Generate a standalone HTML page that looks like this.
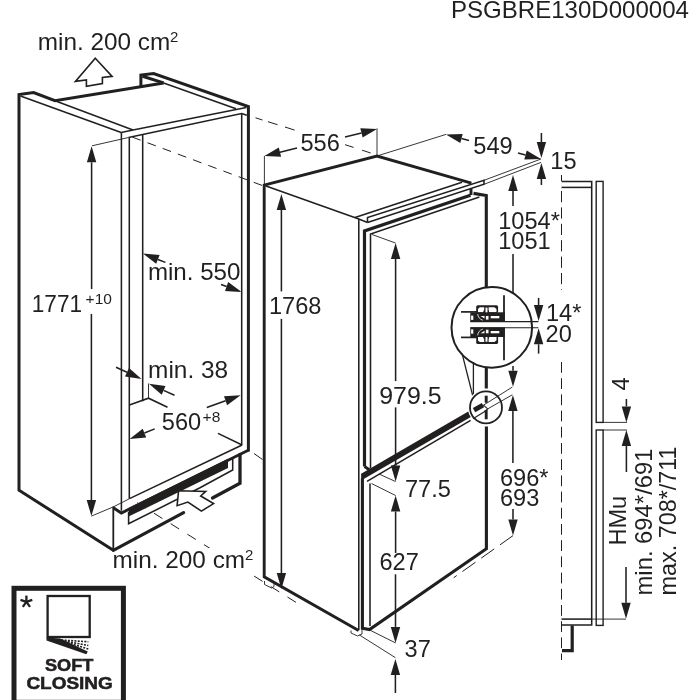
<!DOCTYPE html>
<html><head><meta charset="utf-8"><title>Installation dimensions</title>
<style>
html,body{margin:0;padding:0;background:#fff;}
svg{display:block;will-change:transform;}
text{font-family:"Liberation Sans",sans-serif;fill:#221f1f;}
</style></head>
<body>
<svg width="700" height="700" viewBox="0 0 700 700">
<rect width="700" height="700" fill="#fff"/>
<polyline points="20.5,96.0 121.2,132.5" fill="none" stroke="#221f1f" stroke-width="1.55" />
<polyline points="55.0,100.7 133.0,130.0" fill="none" stroke="#221f1f" stroke-width="1.55" />
<polyline points="121.2,132.5 133.0,130.0" fill="none" stroke="#221f1f" stroke-width="1.55" />
<polyline points="133.0,130.0 246.3,107.6" fill="none" stroke="#221f1f" stroke-width="1.55" />
<polyline points="128.5,137.5 241.6,113.6 246.8,115.3" fill="none" stroke="#221f1f" stroke-width="1.55" />
<polyline points="121.4,132.5 121.4,510.7" fill="none" stroke="#221f1f" stroke-width="1.55" />
<polyline points="129.3,137.5 129.3,498.7" fill="none" stroke="#221f1f" stroke-width="1.55" />
<polyline points="142.7,134.6 142.7,401.2" fill="none" stroke="#221f1f" stroke-width="1.55" />
<polyline points="241.7,113.6 241.7,445.0" fill="none" stroke="#221f1f" stroke-width="1.55" />
<polyline points="163.6,82.9 236.0,108.7" fill="none" stroke="#221f1f" stroke-width="1.55" />
<polyline points="129.4,405.0 148.5,398.2 167.5,407.2" fill="none" stroke="#221f1f" stroke-width="1.55" />
<polyline points="148.5,383.5 148.5,398.2" fill="none" stroke="#221f1f" stroke-width="0.9" />
<polyline points="218.0,433.4 242.1,445.0" fill="none" stroke="#221f1f" stroke-width="1.55" />
<polyline points="242.1,445.0 129.5,498.6" fill="none" stroke="#221f1f" stroke-width="1.55" />
<polyline points="92.0,145.8 128.5,137.5" fill="none" stroke="#221f1f" stroke-width="0.9" />
<polyline points="91.4,516.1 113.3,506.9 129.3,498.8" fill="none" stroke="#221f1f" stroke-width="0.9" />
<polyline points="128.6,512.0 128.6,523.8 200.0,487.8 232.7,470.0 232.7,458.0" fill="none" stroke="#221f1f" stroke-width="1.55" />
<polygon points="128.6,508.0 228.0,458.8 228.0,468.0 128.6,516.6" fill="#221f1f" stroke="none" stroke-width="0" />
<polyline points="248.8,450.0 121.3,513.0 113.3,507.7" fill="none" stroke="#221f1f" stroke-width="2.9" />
<polyline points="113.3,506.5 113.3,550.0" fill="none" stroke="#221f1f" stroke-width="1.8" />
<polyline points="113.3,550.3 19.0,490.2 19.0,94.6 33.6,92.6 55.0,100.7 163.6,82.9" fill="none" stroke="#221f1f" stroke-width="3.0" stroke-linejoin="miter"/>
<polyline points="140.9,87.0 140.9,75.0 153.6,73.6 248.4,106.5 248.4,451.4" fill="none" stroke="#221f1f" stroke-width="3.0" />
<polyline points="142.5,76.3 163.6,82.9" fill="none" stroke="#221f1f" stroke-width="3.0" />
<polyline points="113.3,550.3 183.6,512.6" fill="none" stroke="#221f1f" stroke-width="3.2" stroke-linecap="round"/>
<polyline points="240.0,454.5 240.0,483.2 212.5,498.0" fill="none" stroke="#221f1f" stroke-width="3.3" stroke-linecap="round" stroke-linejoin="miter"/>
<polyline points="132.3,137.1 262.0,185.4" fill="none" stroke="#221f1f" stroke-width="1.0" stroke-dasharray="8.9 7.3"/>
<polyline points="255.5,117.8 262.5,120.0" fill="none" stroke="#221f1f" stroke-width="1.0" />
<polyline points="267.9,121.7 277.5,124.7" fill="none" stroke="#221f1f" stroke-width="1.0" />
<polyline points="285.0,127.0 294.6,130.1" fill="none" stroke="#221f1f" stroke-width="1.0" />
<polyline points="345.0,144.7 353.6,147.4" fill="none" stroke="#221f1f" stroke-width="1.0" />
<polyline points="362.1,150.2 370.7,153.0" fill="none" stroke="#221f1f" stroke-width="1.0" />
<polyline points="132.9,500.0 297.0,603.0" fill="none" stroke="#221f1f" stroke-width="1.0" stroke-dasharray="10 9.7" stroke-dashoffset="14.5"/>
<rect x="209" y="548" width="42" height="24" fill="#fff"/>
<polyline points="254.0,453.5 262.5,459.5" fill="none" stroke="#221f1f" stroke-width="1.0" />
<polygon points="91.6,146.3 86.9,162.3 96.3,162.3" fill="#221f1f" stroke="none" stroke-width="0" />
<polyline points="91.6,162.3 91.6,289.0" fill="none" stroke="#221f1f" stroke-width="1.55" />
<polygon points="91.4,516.1 96.1,500.1 86.7,500.1" fill="#221f1f" stroke="none" stroke-width="0" />
<polyline points="91.4,500.1 91.4,314.0" fill="none" stroke="#221f1f" stroke-width="1.55" />
<polygon points="143.0,253.6 156.2,263.8 159.6,255.1" fill="#221f1f" stroke="none" stroke-width="0" />
<polyline points="157.9,259.5 165.4,262.4" fill="none" stroke="#221f1f" stroke-width="1.55" />
<polygon points="241.6,292.0 228.2,282.1 225.0,290.9" fill="#221f1f" stroke="none" stroke-width="0" />
<polyline points="226.6,286.5 221.0,284.4" fill="none" stroke="#221f1f" stroke-width="1.55" />
<polygon points="141.5,379.0 129.0,368.0 125.0,376.5" fill="#221f1f" stroke="none" stroke-width="0" />
<polyline points="127.0,372.3 116.0,367.2" fill="none" stroke="#221f1f" stroke-width="1.55" />
<polygon points="149.0,383.8 161.7,394.7 165.5,386.1" fill="#221f1f" stroke="none" stroke-width="0" />
<polyline points="163.6,390.4 174.5,395.3" fill="none" stroke="#221f1f" stroke-width="1.55" />
<polygon points="129.6,439.0 146.2,437.4 142.7,428.7" fill="#221f1f" stroke="none" stroke-width="0" />
<polyline points="144.4,433.0 154.7,428.9" fill="none" stroke="#221f1f" stroke-width="1.55" />
<polygon points="240.6,395.3 224.0,396.3 227.1,405.2" fill="#221f1f" stroke="none" stroke-width="0" />
<polyline points="225.6,400.7 206.8,407.5" fill="none" stroke="#221f1f" stroke-width="1.55" />
<polygon points="95.3,58.3 112.1,76.4 102.4,77.4 102.4,83.6 86.4,86.4 86.4,80.0 75.4,81.4" fill="#fff" stroke="#221f1f" stroke-width="1.6" />
<polygon points="178.6,490.7 205.7,491.4 200.7,496.0 213.6,503.6 201.4,511.1 187.9,502.1 177.1,505.7" fill="#fff" stroke="#221f1f" stroke-width="1.6" />
<polyline points="266.0,186.0 358.8,219.0 367.5,222.5" fill="none" stroke="#221f1f" stroke-width="1.55" />
<polyline points="358.8,219.0 358.8,630.3" fill="none" stroke="#221f1f" stroke-width="1.55" />
<polyline points="355.0,217.6 462.0,182.2" fill="none" stroke="#221f1f" stroke-width="1.55" />
<polyline points="367.5,222.5 367.5,217.5 484.0,180.3 484.0,184.3 367.5,222.5" fill="none" stroke="#221f1f" stroke-width="1.55" />
<polyline points="484.0,180.3 541.0,159.0" fill="none" stroke="#221f1f" stroke-width="0.9" />
<polyline points="484.0,184.3 541.0,162.4" fill="none" stroke="#221f1f" stroke-width="0.9" />
<polyline points="370.5,468.0 370.5,234.0 479.4,197.0" fill="none" stroke="#221f1f" stroke-width="1.55" />
<polyline points="364.5,466.5 364.5,231.0 470.5,195.3" fill="none" stroke="#221f1f" stroke-width="3.1999999999999997" />
<polyline points="471.0,188.5 471.0,195.0" fill="none" stroke="#221f1f" stroke-width="2.9" />
<polyline points="473.5,193.4 486.3,195.5 486.3,388.5" fill="none" stroke="#221f1f" stroke-width="3.1" />
<polyline points="364.5,466.5 371.5,471.3" fill="none" stroke="#221f1f" stroke-width="2.9" />
<polyline points="367.0,481.3 470.6,420.3" fill="none" stroke="#221f1f" stroke-width="1.55" />
<polyline points="370.0,483.5 370.0,626.0" fill="none" stroke="#221f1f" stroke-width="1.55" />
<polygon points="361.1,480.6 361.1,473.7 476.0,407.0 476.0,413.9" fill="#221f1f" stroke="none" stroke-width="0" />
<polyline points="362.4,478.5 362.4,628.3 369.5,629.6 486.4,548.7 486.4,426.6" fill="none" stroke="#221f1f" stroke-width="3.1" />
<polyline points="264.5,581.0 264.5,584.5 271.5,588.0 274.0,586.5 274.0,583.0" fill="none" stroke="#221f1f" stroke-width="0.9" />
<polyline points="351.0,630.5 351.0,633.0 357.5,636.0 362.0,634.0 362.0,629.0" fill="none" stroke="#221f1f" stroke-width="0.9" />
<polyline points="358.6,630.5 264.2,576.8 264.2,185.0 377.0,156.0 471.4,183.1" fill="none" stroke="#221f1f" stroke-width="2.9" />
<polyline points="513.0,535.6 453.7,577.7" fill="none" stroke="#221f1f" stroke-width="1.0" stroke-dasharray="16 7"/>
<polyline points="264.4,156.0 264.4,185.0" fill="none" stroke="#221f1f" stroke-width="0.9" />
<polyline points="377.0,128.4 377.0,156.0" fill="none" stroke="#221f1f" stroke-width="0.9" />
<polygon points="264.4,156.0 281.1,156.8 278.8,147.6" fill="#221f1f" stroke="none" stroke-width="0" />
<polyline points="279.9,152.2 297.0,148.0" fill="none" stroke="#221f1f" stroke-width="1.55" />
<polygon points="377.0,129.0 360.3,128.3 362.6,137.4" fill="#221f1f" stroke="none" stroke-width="0" />
<polyline points="361.5,132.9 345.0,137.0" fill="none" stroke="#221f1f" stroke-width="1.55" />
<polyline points="377.0,156.0 446.0,134.4" fill="none" stroke="#221f1f" stroke-width="0.9" />
<polygon points="446.0,134.4 460.3,143.0 462.7,133.9" fill="#221f1f" stroke="none" stroke-width="0" />
<polyline points="461.5,138.4 469.0,140.4" fill="none" stroke="#221f1f" stroke-width="1.55" />
<polygon points="541.0,159.0 526.7,150.4 524.3,159.5" fill="#221f1f" stroke="none" stroke-width="0" />
<polyline points="525.5,155.0 518.0,153.0" fill="none" stroke="#221f1f" stroke-width="1.55" />
<polygon points="541.4,158.0 546.1,142.0 536.7,142.0" fill="#221f1f" stroke="none" stroke-width="0" />
<polyline points="541.4,142.0 541.4,133.0" fill="none" stroke="#221f1f" stroke-width="1.55" />
<polygon points="541.4,163.0 536.7,179.0 546.1,179.0" fill="#221f1f" stroke="none" stroke-width="0" />
<polyline points="541.4,179.0 541.4,185.0" fill="none" stroke="#221f1f" stroke-width="1.55" />
<polygon points="281.4,194.0 276.7,210.0 286.1,210.0" fill="#221f1f" stroke="none" stroke-width="0" />
<polyline points="281.4,210.0 281.4,291.4" fill="none" stroke="#221f1f" stroke-width="1.55" />
<polygon points="281.4,589.0 286.1,573.0 276.7,573.0" fill="#221f1f" stroke="none" stroke-width="0" />
<polyline points="281.4,573.0 281.4,318.9" fill="none" stroke="#221f1f" stroke-width="1.55" />
<polyline points="372.0,234.5 395.5,243.0" fill="none" stroke="#221f1f" stroke-width="0.9" />
<polyline points="379.0,474.0 395.5,481.5" fill="none" stroke="#221f1f" stroke-width="0.9" />
<polygon points="395.6,243.0 390.9,259.0 400.3,259.0" fill="#221f1f" stroke="none" stroke-width="0" />
<polyline points="395.6,259.0 395.6,381.1" fill="none" stroke="#221f1f" stroke-width="1.55" />
<polygon points="395.6,481.5 400.3,465.5 390.9,465.5" fill="#221f1f" stroke="none" stroke-width="0" />
<polyline points="395.6,465.5 395.6,407.4" fill="none" stroke="#221f1f" stroke-width="1.55" />
<polyline points="371.5,483.5 395.6,495.5" fill="none" stroke="#221f1f" stroke-width="0.9" />
<polyline points="370.3,630.3 395.5,642.9" fill="none" stroke="#221f1f" stroke-width="0.9" />
<polygon points="395.6,495.5 390.9,511.5 400.3,511.5" fill="#221f1f" stroke="none" stroke-width="0" />
<polyline points="395.6,511.5 395.6,553.0" fill="none" stroke="#221f1f" stroke-width="1.55" />
<polygon points="395.5,642.9 400.2,626.9 390.8,626.9" fill="#221f1f" stroke="none" stroke-width="0" />
<polyline points="395.5,626.9 395.5,574.3" fill="none" stroke="#221f1f" stroke-width="1.55" />
<polyline points="359.3,634.9 395.4,657.7" fill="none" stroke="#221f1f" stroke-width="0.9" />
<polygon points="395.4,658.9 390.7,674.9 400.1,674.9" fill="#221f1f" stroke="none" stroke-width="0" />
<polyline points="395.4,674.9 395.4,693.0" fill="none" stroke="#221f1f" stroke-width="1.55" />
<polygon points="513.0,175.0 508.3,191.0 517.7,191.0" fill="#221f1f" stroke="none" stroke-width="0" />
<polyline points="513.0,191.0 513.0,206.0" fill="none" stroke="#221f1f" stroke-width="1.55" />
<polyline points="513.0,254.0 513.0,300.0" fill="none" stroke="#221f1f" stroke-width="1.55" />
<polygon points="513.0,386.8 517.7,370.8 508.3,370.8" fill="#221f1f" stroke="none" stroke-width="0" />
<polyline points="513.0,370.8 513.0,366.0" fill="none" stroke="#221f1f" stroke-width="1.55" />
<polygon points="512.9,395.1 508.2,411.1 517.6,411.1" fill="#221f1f" stroke="none" stroke-width="0" />
<polyline points="512.9,411.1 512.9,463.0" fill="none" stroke="#221f1f" stroke-width="1.55" />
<polygon points="513.0,535.6 517.7,519.6 508.3,519.6" fill="#221f1f" stroke="none" stroke-width="0" />
<polyline points="513.0,519.6 513.0,509.0" fill="none" stroke="#221f1f" stroke-width="1.55" />
<circle cx="491.8" cy="327.4" r="40.3" fill="#fff" stroke="#221f1f" stroke-width="2"/>
<polyline points="462.1,353.6 472.9,396.4" fill="none" stroke="#221f1f" stroke-width="1.3" />
<polyline points="473.4,362.0 473.4,395.5" fill="none" stroke="#221f1f" stroke-width="1.3" />
<polyline points="504.0,295.3 504.0,321.6" fill="none" stroke="#221f1f" stroke-width="1.8" />
<polyline points="504.0,327.4 504.0,360.2" fill="none" stroke="#221f1f" stroke-width="1.8" />
<polyline points="470.3,321.6 538.4,321.6" fill="none" stroke="#221f1f" stroke-width="1.1" />
<polyline points="470.3,327.7 538.4,327.7" fill="none" stroke="#221f1f" stroke-width="1.1" />
<g><rect x="476.2" y="305.2" width="21.9" height="8" rx="1.6" fill="#221f1f"/>
<polygon points="478,312.3 478,308.9 479.8,307.2 484.2,307.2 484.2,309.5 483,312.3" fill="#fff"/>
<polygon points="489.2,312.3 488.6,309.5 488.6,307.2 494.4,307.2 496.5,309 496.5,312.3" fill="#fff"/>
<rect x="485.5" y="307.6" width="2" height="6.4" fill="#fff"/>
<rect x="470.3" y="312.3" width="34.4" height="9.6" fill="#221f1f"/>
<rect x="471.1" y="315.6" width="2.2" height="4.3" fill="#fff"/>
<rect x="485.9" y="316" width="2.6" height="3.6" fill="#fff"/>
<rect x="490.7" y="316" width="8.6" height="2.3" fill="#fff"/>
<path d="M477.7,314 Q478.2,318.8 482.8,320.2" fill="none" stroke="#fff" stroke-width="0.8"/>
<polygon points="480.5,316 484.5,316 484.5,318.5" fill="#fff"/>
<line x1="461" y1="311.9" x2="477" y2="311.9" stroke="#221f1f" stroke-width="1.7"/></g>
<g transform="translate(0,649.3) scale(1,-1)"><rect x="476.2" y="305.2" width="21.9" height="8" rx="1.6" fill="#221f1f"/>
<polygon points="478,312.3 478,308.9 479.8,307.2 484.2,307.2 484.2,309.5 483,312.3" fill="#fff"/>
<polygon points="489.2,312.3 488.6,309.5 488.6,307.2 494.4,307.2 496.5,309 496.5,312.3" fill="#fff"/>
<rect x="485.5" y="307.6" width="2" height="6.4" fill="#fff"/>
<rect x="470.3" y="312.3" width="34.4" height="9.6" fill="#221f1f"/>
<rect x="471.1" y="315.6" width="2.2" height="4.3" fill="#fff"/>
<rect x="485.9" y="316" width="2.6" height="3.6" fill="#fff"/>
<rect x="490.7" y="316" width="8.6" height="2.3" fill="#fff"/>
<path d="M477.7,314 Q478.2,318.8 482.8,320.2" fill="none" stroke="#fff" stroke-width="0.8"/>
<polygon points="480.5,316 484.5,316 484.5,318.5" fill="#fff"/>
<line x1="461" y1="311.9" x2="477" y2="311.9" stroke="#221f1f" stroke-width="1.7"/></g>
<polygon points="538.6,321.0 543.3,305.0 533.9,305.0" fill="#221f1f" stroke="none" stroke-width="0" />
<polyline points="538.6,305.0 538.6,297.9" fill="none" stroke="#221f1f" stroke-width="1.55" />
<polygon points="538.6,328.3 533.9,344.3 543.3,344.3" fill="#221f1f" stroke="none" stroke-width="0" />
<polyline points="538.6,344.3 538.6,353.6" fill="none" stroke="#221f1f" stroke-width="1.55" />
<circle cx="486" cy="407.4" r="18.2" fill="#fff"/>
<circle cx="486" cy="407.4" r="16" fill="#fff" stroke="#221f1f" stroke-width="1.8"/>
<polyline points="486.2,395.7 486.2,402.8" fill="none" stroke="#221f1f" stroke-width="2.9" />
<polyline points="486.2,410.0 486.2,419.3" fill="none" stroke="#221f1f" stroke-width="2.9" />
<polyline points="474.0,410.2 483.0,405.2" fill="none" stroke="#221f1f" stroke-width="4.8" />
<polyline points="473.0,418.8 484.3,411.7 487.7,408.9 483.5,405.2" fill="none" stroke="#221f1f" stroke-width="1.1" />
<polyline points="483.1,405.4 512.3,387.1" fill="none" stroke="#221f1f" stroke-width="0.9" />
<polyline points="487.7,408.9 512.3,394.8" fill="none" stroke="#221f1f" stroke-width="0.9" />
<polyline points="561.5,175.0 561.5,181.0" fill="none" stroke="#221f1f" stroke-width="1.0" />
<polyline points="561.5,191.0 561.5,290.0" fill="none" stroke="#221f1f" stroke-width="1.0" stroke-dasharray="11.2 5.2"/>
<polyline points="561.5,362.0 561.5,660.0" fill="none" stroke="#221f1f" stroke-width="1.0" stroke-dasharray="10.8 5.4"/>
<polyline points="561.5,181.4 591.7,181.4 591.7,624.9 561.5,624.9" fill="none" stroke="#221f1f" stroke-width="1.55" />
<polyline points="561.5,187.4 591.0,187.4" fill="none" stroke="#221f1f" stroke-width="1.55" />
<polyline points="561.5,619.1 591.7,619.1" fill="none" stroke="#221f1f" stroke-width="1.55" />
<rect x="596.2" y="181.4" width="6.9" height="241" fill="none" stroke="#221f1f" stroke-width="1.4"/>
<rect x="596.2" y="430" width="6.9" height="195.4" fill="none" stroke="#221f1f" stroke-width="1.4"/>
<polyline points="603.0,422.4 627.0,422.4" fill="none" stroke="#221f1f" stroke-width="0.9" />
<polyline points="603.0,430.0 627.0,430.0" fill="none" stroke="#221f1f" stroke-width="0.9" />
<polyline points="591.7,619.1 626.0,619.1" fill="none" stroke="#221f1f" stroke-width="0.9" />
<polyline points="572.2,625.4 572.2,650.6 562.0,650.6" fill="none" stroke="#221f1f" stroke-width="3.2" />
<polygon points="626.4,422.4 631.1,406.4 621.7,406.4" fill="#221f1f" stroke="none" stroke-width="0" />
<polyline points="626.4,406.4 626.4,399.0" fill="none" stroke="#221f1f" stroke-width="1.55" />
<polygon points="626.4,430.0 621.7,446.0 631.1,446.0" fill="#221f1f" stroke="none" stroke-width="0" />
<polyline points="626.4,446.0 626.4,472.0" fill="none" stroke="#221f1f" stroke-width="1.55" />
<polygon points="626.0,618.8 630.7,602.8 621.3,602.8" fill="#221f1f" stroke="none" stroke-width="0" />
<polyline points="626.0,602.8 626.0,567.0" fill="none" stroke="#221f1f" stroke-width="1.55" />
<text x="451.0" y="18.2" font-size="23.6" font-weight="normal" textLength="238.0" lengthAdjust="spacingAndGlyphs" >PSGBRE130D000004</text>
<text x="37.8" y="50.0" font-size="23.6" font-weight="normal" textLength="132.5" lengthAdjust="spacingAndGlyphs" >min. 200 cm</text>
<text x="170.0" y="42.1" font-size="15" font-weight="normal" >2</text>
<text x="31.8" y="311.6" font-size="23.6" font-weight="normal" textLength="50.3" lengthAdjust="spacingAndGlyphs" >1771</text>
<text x="85.6" y="303.6" font-size="15.5" font-weight="normal" >+10</text>
<text x="147.9" y="280.4" font-size="23.6" font-weight="normal" textLength="92.5" lengthAdjust="spacingAndGlyphs" >min. 550</text>
<text x="148.1" y="377.5" font-size="23.6" font-weight="normal" textLength="80.0" lengthAdjust="spacingAndGlyphs" >min. 38</text>
<text x="161.8" y="429.6" font-size="23.6" font-weight="normal" >560</text>
<text x="202.6" y="422.2" font-size="15.5" font-weight="normal" >+8</text>
<text x="112.6" y="567.7" font-size="23.6" font-weight="normal" textLength="132.5" lengthAdjust="spacingAndGlyphs" >min. 200 cm</text>
<text x="244.9" y="559.8" font-size="15" font-weight="normal" >2</text>
<text x="300.5" y="151.0" font-size="23.6" font-weight="normal" >556</text>
<text x="473.3" y="154.0" font-size="23.6" font-weight="normal" >549</text>
<text x="550.3" y="168.6" font-size="23.6" font-weight="normal" >15</text>
<text x="498.2" y="229.0" font-size="23.6" font-weight="normal" >1054*</text>
<text x="498.2" y="249.0" font-size="23.6" font-weight="normal" >1051</text>
<text x="268.9" y="314.2" font-size="23.6" font-weight="normal" >1768</text>
<text x="379.2" y="403.7" font-size="23.6" font-weight="normal" textLength="62.3" lengthAdjust="spacingAndGlyphs" >979.5</text>
<text x="405.0" y="497.4" font-size="23.6" font-weight="normal" >77.5</text>
<text x="379.5" y="569.9" font-size="23.6" font-weight="normal" >627</text>
<text x="404.6" y="657.0" font-size="23.6" font-weight="normal" >37</text>
<text x="500.0" y="485.6" font-size="23.6" font-weight="normal" >696*</text>
<text x="500.0" y="505.6" font-size="23.6" font-weight="normal" >693</text>
<text x="546.0" y="321.2" font-size="23.6" font-weight="normal" >14*</text>
<text x="545.6" y="341.9" font-size="23.6" font-weight="normal" >20</text>
<text transform="translate(629.0,390.5) rotate(-90)" font-size="23.6">4</text>
<text transform="translate(626.4,545.6) rotate(-90)" font-size="23.6">HMu</text>
<text transform="translate(651.5,595.5) rotate(-90)" font-size="23.6" textLength="147.0" lengthAdjust="spacingAndGlyphs">min. 694*/691</text>
<text transform="translate(676.0,595.5) rotate(-90)" font-size="23.6" textLength="149.0" lengthAdjust="spacingAndGlyphs">max. 708*/711</text>
<rect x="14" y="588.3" width="109.4" height="114" fill="#fff" stroke="#221f1f" stroke-width="5"/>
<rect x="47.6" y="596" width="42.1" height="41" fill="#fff" stroke="#221f1f" stroke-width="2.3"/>
<polygon points="46.5,637.5 60.0,638.5 87.8,651.4 86.3,654.2 46.5,640.5" fill="#221f1f" stroke="none" stroke-width="0" />
<polyline points="58.0,639.8 88.3,641.8" fill="none" stroke="#221f1f" stroke-width="1.6" stroke-dasharray="2 1.3"/>
<polyline points="58.0,639.8 88.3,645.5" fill="none" stroke="#221f1f" stroke-width="1.6" stroke-dasharray="2 1.3"/>
<polyline points="58.0,639.8 88.3,649.0" fill="none" stroke="#221f1f" stroke-width="1.6" stroke-dasharray="2 1.3"/>
<polyline points="26.4,601.8 26.4,595.6" fill="none" stroke="#221f1f" stroke-width="2.3" />
<polyline points="26.4,601.8 32.3,599.9" fill="none" stroke="#221f1f" stroke-width="2.3" />
<polyline points="26.4,601.8 30.0,606.8" fill="none" stroke="#221f1f" stroke-width="2.3" />
<polyline points="26.4,601.8 22.8,606.8" fill="none" stroke="#221f1f" stroke-width="2.3" />
<polyline points="26.4,601.8 20.5,599.9" fill="none" stroke="#221f1f" stroke-width="2.3" />
<text x="45.0" y="671.2" font-size="17" font-weight="bold" textLength="48.4" lengthAdjust="spacingAndGlyphs" stroke="#221f1f" stroke-width="0.55">SOFT</text>
<text x="26.4" y="688.9" font-size="17" font-weight="bold" textLength="86.4" lengthAdjust="spacingAndGlyphs" stroke="#221f1f" stroke-width="0.55">CLOSING</text>
</svg>
</body></html>
